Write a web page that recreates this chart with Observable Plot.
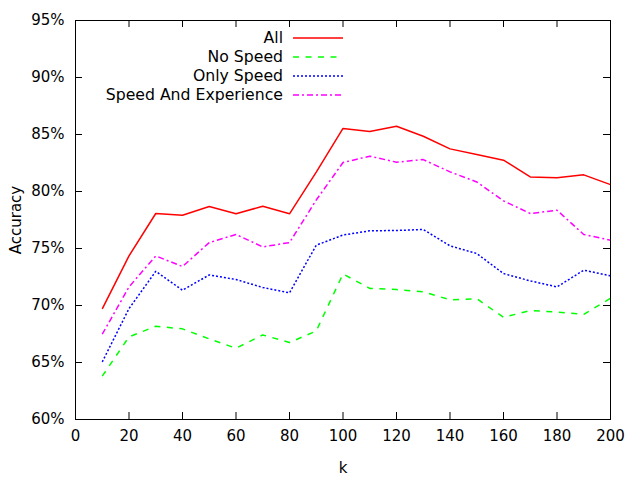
<!DOCTYPE html>
<html>
<head>
<meta charset="utf-8">
<script src="https://cdn.jsdelivr.net/npm/d3@7"></script>
<script src="https://cdn.jsdelivr.net/npm/@observablehq/plot@0.6"></script>
<style>
  body { margin: 0; background: white; }
  #chart { position: relative; width: 640px; height: 480px; }
  #chart svg { display: block; }
  #legend { position: absolute; left: 0; top: 0; }
</style>
</head>
<body>
<div id="chart"></div>
<script>
const ks = [10,20,30,40,50,60,70,80,90,100,110,120,130,140,150,160,170,180,190,200];
const seriesNames = ["All", "No Speed", "Only Speed", "Speed And Experience"];
const allVals = [69.7,74.35,78.07,77.92,78.68,78.04,78.71,78.04,81.7,85.53,85.26,85.73,84.85,83.74,83.25,82.75,81.28,81.2,81.46,80.6];
const noSpeedVals = [63.8,67.25,68.18,67.95,67.07,66.25,67.42,66.75,67.77,72.77,71.5,71.4,71.2,70.5,70.6,68.96,69.55,69.43,69.22,70.63];
const onlySpeedVals = [65.05,69.73,73.0,71.34,72.68,72.28,71.58,71.11,75.29,76.18,76.55,76.58,76.67,75.23,74.56,72.8,72.16,71.63,73.1,72.6];
const speedExpVals = [67.48,71.63,74.35,73.42,75.52,76.23,75.14,75.52,79.25,82.54,83.1,82.57,82.8,81.72,80.84,79.18,78.07,78.36,76.23,75.73];
const xTicks = [0,20,40,60,80,100,120,140,160,180,200];
const yTicks = [60,65,70,75,80,85,90,95];
const colors = ["#ff0000", "#00ff00", "#0000ff", "#ff00ff"];
const dashes = [null, "6,6.5", "2,2", "6,3,2,3"];

const valueLists = [allVals, noSpeedVals, onlySpeedVals, speedExpVals];
const seriesData = seriesNames.map((name, i) =>
  ks.map((k, j) => ({series: name, k, v: valueLists[i][j]}))
);

const lineMarks = seriesData.map((d, i) =>
  Plot.line(d, {x: "k", y: "v", stroke: colors[i], strokeWidth: 1.5,
    strokeDasharray: dashes[i] || undefined, strokeLinejoin: "miter", strokeLinecap: "butt"})
);

const chart = Plot.plot({
  width: 640,
  height: 480,
  marginLeft: 75,
  marginRight: 30,
  marginTop: 20,
  marginBottom: 61,
  style: {fontFamily: "DejaVu Sans, sans-serif", fontSize: "15px", color: "black", background: "white"},
  x: {domain: [0, 200]},
  y: {domain: [60, 95]},
  marks: [
    ...lineMarks,
    Plot.tickX(xTicks, {x: d => d, insetTop: 392, stroke: "black"}),
    Plot.tickX(xTicks, {x: d => d, insetBottom: 392, stroke: "black"}),
    Plot.tickY(yTicks, {y: d => d, insetRight: 528, stroke: "black"}),
    Plot.tickY(yTicks, {y: d => d, insetLeft: 528, stroke: "black"}),
    Plot.frame({stroke: "black", strokeWidth: 1}),
    Plot.axisX(xTicks, {tickSize: 0, tickPadding: 11, label: "k", labelAnchor: "center", labelArrow: "none", labelOffset: 53}),
    Plot.axisY(yTicks, {tickSize: 0, tickPadding: 11, tickFormat: d => d + "%", label: "Accuracy", labelAnchor: "center", labelArrow: "none", labelOffset: 65})
  ]
});
const container = document.getElementById("chart");
container.appendChild(chart);

// Legend overlay (inside plot frame, top area)
const legend = d3.select(container).append("svg")
  .attr("id", "legend").attr("width", 640).attr("height", 120)
  .style("font-family", "DejaVu Sans, sans-serif").style("font-size", "15.7px");
seriesNames.forEach((name, i) => {
  const y = 38 + i * 19;
  legend.append("text").attr("x", 283).attr("y", y).attr("dy", "0.35em")
    .attr("text-anchor", "end").attr("fill", "black").text(name);
  legend.append("line").attr("x1", 293).attr("x2", 343).attr("y1", y).attr("y2", y)
    .attr("stroke", colors[i]).attr("stroke-width", 1.5)
    .attr("stroke-dasharray", dashes[i]);
});
</script>
</body>
</html>
